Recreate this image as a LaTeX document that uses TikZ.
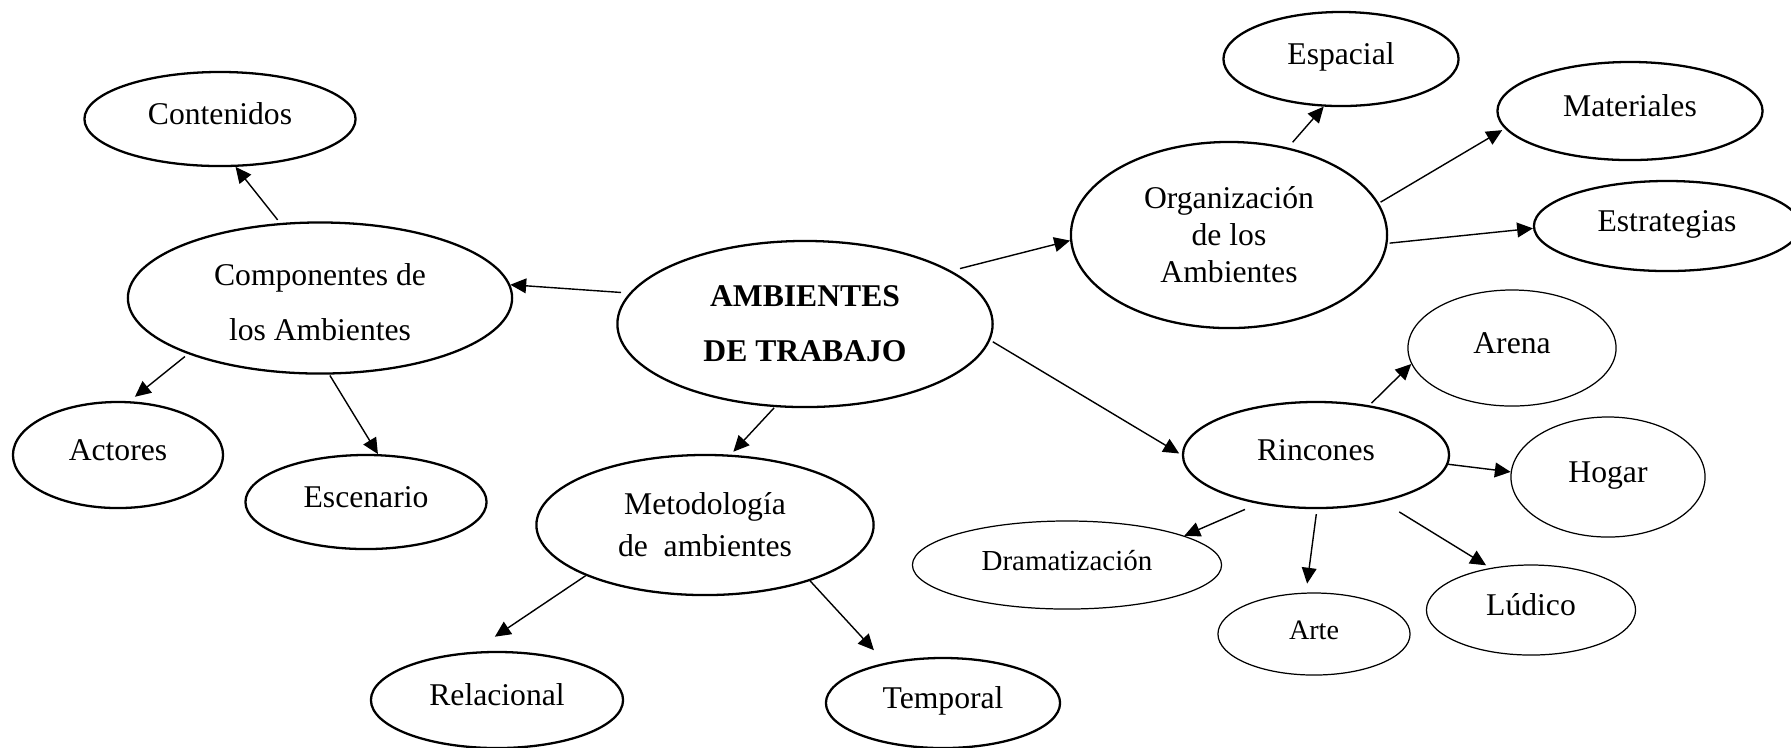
\documentclass[tikz,border=0pt]{standalone}
\usepackage{fontspec}
\setmainfont{Liberation Serif}
\usetikzlibrary{shapes.geometric,arrows.meta}
\begin{document}
\begin{tikzpicture}[x=.01cm,y=-.01cm,
	elip/.style 2 args={ellipse,draw,line width=.65pt,inner sep=0pt,minimum width=#1,minimum height=#2,
		font=\fontsize{9}{11}\selectfont,text height=5.6pt,text depth=2.7pt},
	fina/.style 2 args={ellipse,draw,line width=.35pt,inner sep=0pt,minimum width=#1,minimum height=#2,
		font=\fontsize{9}{11}\selectfont,text height=5.6pt,text depth=2.7pt},
	multi/.style 2 args={ellipse,draw,line width=.65pt,inner sep=0pt,align=center,minimum width=#1,minimum height=#2},
	flecha/.style={-{Triangle[length=4.5pt,width=4.2pt]},line width=.4pt}]
	\useasboundingbox (0,0) rectangle (1791,747);
	
	\node[multi={3.75cm}{1.66cm},font=\fontsize{9}{15.6}\selectfont\bfseries] (amb) at (805,324) {AMBIENTES\\DE TRABAJO};
	
	\node[multi={3.84cm}{1.51cm},font=\fontsize{9}{15.6}\selectfont] (comp) at (320,298) {\rule{0pt}{8.4pt}Componentes de\\los Ambientes};
	\node[elip={2.71cm}{.94cm}] (cont) at (220,119) {Contenidos};
	\node[elip={2.1cm}{1.06cm}] (act) at (118,455) {Actores};
	\node[elip={2.41cm}{.94cm}] (esc) at (366,502) {Escenario};
	
	\node[multi={3.37cm}{1.4cm},font=\fontsize{9}{12}\selectfont] (met) at (705,525) {Metodología\\de\ \ ambientes};
	\node[elip={2.52cm}{.96cm}] (rel) at (497,700) {Relacional};
	\node[elip={2.34cm}{.9cm}] (tem) at (943,703) {Temporal};
	
	\node[multi={3.16cm}{1.86cm},font=\fontsize{9}{10.5}\selectfont] (org) at (1229,235) {Organización\\de los\\Ambientes};
	\node[elip={2.35cm}{.94cm}] (esp) at (1341,59) {Espacial};
	\node[elip={2.65cm}{.98cm}] (mat) at (1630,111) {Materiales};
	\node[elip={2.66cm}{.9cm}] (est) at (1667,226) {Estrategias};
	
	\node[elip={2.66cm}{1.06cm}] (rin) at (1316,455) {Rincones};
	\node[fina={3.09cm}{.88cm},font=\fontsize{8.25}{10}\selectfont] (dra) at (1067,565) {Dramatización};
	\node[fina={1.92cm}{.82cm},font=\fontsize{8}{10}\selectfont] (art) at (1314,634) {Arte};
	\node[fina={2.08cm}{1.16cm}] (are) at (1512,348) {Arena};
	\node[fina={1.94cm}{1.2cm}] (hog) at (1608,477) {Hogar};
	\node[fina={2.09cm}{.9cm}] (lud) at (1531,610) {Lúdico};
	
	\draw[flecha,shorten <=.085cm] (amb.170) -- (comp.4);
	\draw[flecha,shorten <=.04cm] (comp.118) -- (cont.288);
	\draw[flecha,shorten <=.04cm,shorten >=.07cm] (comp.203) -- (act.78);
	\draw[flecha,shorten <=.01cm] (comp.277) -- (esc.76);
	\draw[flecha,shorten <=.01cm,shorten >=.04cm] (amb.250) -- (met.70);
	\draw[flecha,shorten >=.27cm] (met.203) -- (rel.117);
	\draw[flecha,shorten >=.17cm] (met.332) -- (tem.145);
	\draw[flecha,shorten <=.09cm] (amb.20) -- (org.182);
	\draw[flecha,shorten <=.03cm,shorten >=.03cm] (amb.355) -- (rin.180);
	\draw[flecha,shorten <=.07cm] (org.56) -- (esp.250);
	\draw[flecha,shorten <=.02cm,shorten >=.03cm] (org.12) -- (mat.188);
	\draw[flecha,shorten <=.02cm] (org.357) -- (est.181);
	\draw[flecha,shorten <=.03cm] (rin.43) -- (are.189);
	\draw[flecha] (rin.356) -- (hog.177);
	\draw[flecha,shorten <=.19cm,shorten >=.05cm] (rin.325) -- (lud.134);
	\draw[flecha,shorten <=.05cm,shorten >=.09cm] (rin.271) -- (art.101);
	\draw[flecha,shorten <=.14cm] (rin.220) -- (dra.14);
\end{tikzpicture}
\end{document}
